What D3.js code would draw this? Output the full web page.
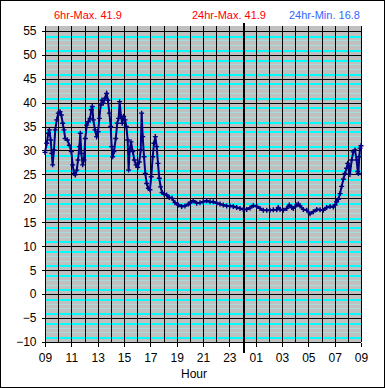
<!DOCTYPE html>
<html>
<head>
    <meta charset="utf-8">
    <script type="text/javascript" src="https://d3js.org/d3.v7.min.js"></script>
    <style>
        body {
            background: #ffffff;
            margin: 0;
            padding: 0;
        }
        text {
            font-family: "Liberation Sans", Arial, sans-serif;
        }
        .tick_label {
            font-size: 12px;
            fill: #000000;
        }
        .head {
            font-size: 11px;
        }
    </style>
</head>
<body>
    <div id="chart"></div>
    <script>
// hours since 09:00 and temperature
var hours = [0, 0.13, 0.25, 0.33, 0.43, 0.51, 0.58, 0.68, 0.78, 0.89,
    1.01, 1.14, 1.24, 1.34, 1.44, 1.54, 1.70, 1.85, 2.0, 2.1,
    2.2, 2.3, 2.41, 2.51, 2.61, 2.68, 2.76, 2.86, 2.96, 3.06,
    3.17, 3.29, 3.42, 3.52, 3.59, 3.67, 3.8, 3.92, 4.03, 4.13,
    4.23, 4.33, 4.43, 4.56, 4.68, 4.78, 4.89, 4.99, 5.06, 5.14,
    5.24, 5.37, 5.49, 5.59, 5.67, 5.77, 5.87, 5.97, 6.08, 6.18,
    6.28, 6.35, 6.43, 6.53, 6.66, 6.79, 6.91, 7.04, 7.16, 7.27,
    7.34, 7.42, 7.52, 7.62, 7.72, 7.85, 7.97, 8.07, 8.18, 8.28,
    8.38, 8.48, 8.58, 8.68, 8.78, 8.89, 9.04, 9.24, 9.44, 9.65,
    9.87, 10.13, 10.38, 10.63, 10.89, 11.01, 11.26, 11.52, 11.77, 12.02,
    12.28, 12.53, 12.78, 13.04, 13.29, 13.54, 13.80, 14.05, 14.30, 14.56,
    14.81, 15.06, 15.32, 15.57, 15.82, 16.08, 16.33, 16.58, 16.84, 17.09,
    17.34, 17.60, 17.72, 17.85, 18.10, 18.36, 18.55, 18.74, 18.86, 19.12,
    19.24, 19.37, 19.62, 19.88, 20.13, 20.38, 20.64, 20.89, 21.14, 21.39,
    21.65, 21.90, 22.03, 22.15, 22.28, 22.41, 22.53, 22.66, 22.78, 22.91,
    22.99, 23.09, 23.16, 23.29, 23.41, 23.54, 23.67, 23.75, 23.80, 23.87,
    23.93, 24.0];
var temps = [29.6, 31.5, 33.6, 34.3, 32.2, 29.4, 27.0, 30.1, 34.3, 36.4,
    37.8, 38.1, 37.4, 35.7, 34.3, 32.5, 32.2, 31.1, 29.8, 27.0,
    25.2, 24.9, 25.9, 28.0, 30.8, 33.6, 29.4, 27.0, 28.0, 32.5,
    35.3, 36.0, 36.7, 38.5, 39.2, 36.4, 34.3, 32.9, 33.9, 36.7,
    39.5, 40.5, 39.9, 40.9, 41.9, 40.5, 37.8, 35.0, 30.8, 28.7,
    29.8, 32.5, 35.7, 36.7, 40.2, 37.1, 35.7, 37.1, 36.4, 35.0,
    32.2, 25.9, 30.1, 31.8, 29.8, 28.0, 27.0, 26.5, 27.6, 30.1,
    37.8, 32.9, 28.7, 25.2, 23.1, 22.1, 21.8, 24.5, 28.7, 31.5,
    32.9, 30.8, 27.3, 24.2, 22.4, 21.2, 20.9, 20.7, 20.2, 20.0,
    19.1, 18.6, 18.3, 18.4, 18.8, 19.0, 19.5, 19.0, 19.1, 19.3,
    19.5, 19.3, 19.3, 19.0, 18.8, 18.6, 18.4, 18.4, 18.3, 18.1,
    17.9, 17.7, 17.7, 18.0, 18.5, 18.3, 17.9, 17.5, 17.5, 17.5,
    17.6, 17.6, 18.1, 17.7, 17.5, 17.9, 18.6, 18.1, 17.9, 18.6,
    18.8, 18.4, 17.7, 17.5, 16.8, 17.2, 17.7, 17.6, 17.5, 18.1,
    18.3, 18.2, 18.6, 19.3, 19.8, 21.0, 22.5, 24.0, 25.2, 26.3,
    27.3, 26.7, 25.0, 28.0, 29.7, 30.1, 28.0, 25.6, 25.2, 28.7,
    30.5, 31.0];

var hourTicks = [0, 2, 4, 6, 8, 10, 12, 14, 16, 18, 20, 22, 24];
var tempTicks = [-10, -5, 0, 5, 10, 15, 20, 25, 30, 35, 40, 45, 50, 55];
var headTexts = ["6hr-Max. 41.9", "24hr-Max. 41.9", "24hr-Min. 16.8"];

var data = hours.map(function(h, i) { return {h: h, t: temps[i]}; });

var width = 385, height = 388;
var svg = d3.select("#chart")
    .append("svg")
    .attr("width", width)
    .attr("height", height);

var x = d3.scaleLinear().domain([0, 24]).range([45, 361]);
var y = d3.scaleLinear().domain([-10, 56]).range([342, 26]);

// outer frame
svg.append("rect")
    .attr("x", 0.5).attr("y", 0.5)
    .attr("width", width - 1).attr("height", height - 1)
    .attr("fill", "#ffffff").attr("stroke", "#000000");

// plot background
svg.append("rect")
    .attr("x", x(0)).attr("y", y(56))
    .attr("width", x(24) - x(0)).attr("height", y(-10) - y(56))
    .attr("fill", "#c0c0c0");

var grid = svg.append("g").attr("shape-rendering", "crispEdges");

// minor cyan lines every degree
var minor = d3.range(-10, 56).filter(function(v) { return v % 5 != 0; });
grid.selectAll(".minor")
    .data(minor)
    .enter().append("line")
    .attr("class", "minor")
    .attr("x1", x(0)).attr("x2", x(24))
    .attr("y1", function(d) { return Math.round(y(d)) + 0.5; })
    .attr("y2", function(d) { return Math.round(y(d)) + 0.5; })
    .attr("stroke", function(d) {
        var m = ((d % 5) + 5) % 5;
        return (m == 1 || m == 4) ? "#00ffff" : "#a6dede";
    })
    .attr("stroke-width", function(d) {
        var m = ((d % 5) + 5) % 5;
        return (m == 1 || m == 4) ? 2 : 1;
    });

// major horizontal lines
grid.selectAll(".major")
    .data(tempTicks)
    .enter().append("line")
    .attr("x1", x(0)).attr("x2", x(24))
    .attr("y1", function(d) { return Math.round(y(d)) + 0.5; })
    .attr("y2", function(d) { return Math.round(y(d)) + 0.5; })
    .attr("stroke", "#000000");

// hourly vertical lines
grid.selectAll(".vert")
    .data(d3.range(0, 25))
    .enter().append("line")
    .attr("x1", function(d) { return Math.round(x(d)) + 0.5; })
    .attr("x2", function(d) { return Math.round(x(d)) + 0.5; })
    .attr("y1", y(56)).attr("y2", y(-10))
    .attr("stroke", "#000000");

// midnight marker
grid.append("line")
    .attr("x1", Math.round(x(15)) + 0.5).attr("x2", Math.round(x(15)) + 0.5)
    .attr("y1", 23).attr("y2", 353)
    .attr("stroke", "#000000")
    .attr("stroke-width", 2);

// axes
var xAxis = d3.axisBottom(x)
    .tickValues(hourTicks)
    .tickSize(4)
    .tickPadding(7)
    .tickFormat(function(d) { return d3.format("02d")((9 + d) % 24); });
var gx = svg.append("g")
    .attr("transform", "translate(0," + (Math.round(y(-10)) + 0.5) + ")")
    .call(xAxis);

var yAxis = d3.axisLeft(y)
    .tickValues(tempTicks)
    .tickSize(4)
    .tickPadding(5);
var gy = svg.append("g")
    .attr("transform", "translate(" + (Math.round(x(0)) + 0.5) + ",0)")
    .call(yAxis);

[gx, gy].forEach(function(g) {
    g.select(".domain").remove();
    g.selectAll("line").attr("stroke", "#000000").attr("shape-rendering", "crispEdges");
    g.selectAll("text")
        .attr("class", "tick_label")
        .style("font-family", "Liberation Sans, Arial, sans-serif")
        .style("font-size", "12px");
});

svg.append("text")
    .attr("class", "tick_label")
    .attr("x", 194).attr("y", 378)
    .attr("text-anchor", "middle")
    .text("Hour");

// header texts
svg.selectAll(".head")
    .data(headTexts)
    .enter().append("text")
    .attr("class", "head")
    .attr("x", function(d, i) { return [54, 192, 289][i]; })
    .attr("y", 19)
    .attr("fill", function(d, i) { return i < 2 ? "#ff0000" : "#3366ff"; })
    .text(function(d) { return d; });

// temperature trace
var line = d3.line()
    .x(function(d) { return x(d.h); })
    .y(function(d) { return y(d.t); });

svg.append("path")
    .datum(data)
    .attr("d", line)
    .attr("fill", "none")
    .attr("stroke", "#000080")
    .attr("stroke-width", 2);

svg.selectAll(".pt")
    .data(data)
    .enter().append("path")
    .attr("class", "pt")
    .attr("transform", function(d) { return "translate(" + x(d.h) + "," + y(d.t) + ")"; })
    .attr("d", "M-2.5,0H2.5M0,-2.5V2.5")
    .attr("stroke", "#000080")
    .attr("stroke-width", 1.4);
    </script>
</body>
</html>
